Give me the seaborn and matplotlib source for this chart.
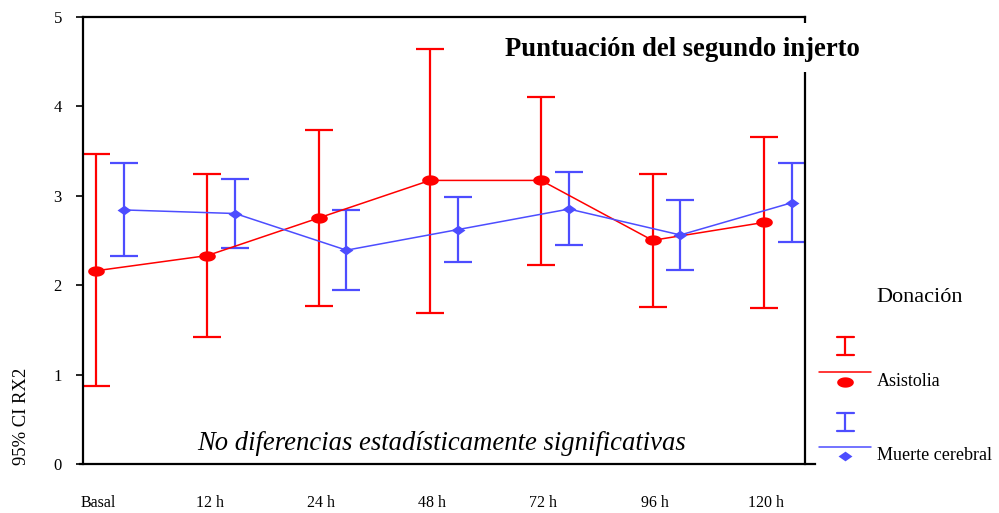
import numpy as np
import pandas as pd
import seaborn as sns
import matplotlib
matplotlib.use("Agg")
import matplotlib.pyplot as plt
from matplotlib.lines import Line2D
from matplotlib.patches import Rectangle
from matplotlib.path import Path

# Time points and group summaries (mean with 95% CI)
momentos = ["Basal", "12 h", "24 h", "48 h", "72 h", "96 h", "120 h"]

asistolia_media = [2.16, 2.33, 2.75, 3.17, 3.17, 2.50, 2.70]
asistolia_sup = [3.46, 3.24, 3.73, 4.64, 4.10, 3.24, 3.66]
asistolia_inf = [0.87, 1.42, 1.77, 1.69, 2.23, 1.76, 1.74]

muerte_media = [2.84, 2.80, 2.39, 2.62, 2.85, 2.56, 2.92]
muerte_sup = [3.37, 3.19, 2.84, 2.98, 3.26, 2.95, 3.37]
muerte_inf = [2.33, 2.41, 1.94, 2.26, 2.45, 2.17, 2.48]

grupos = ["Asistolia", "Muerte cerebral"]
colores = {"Asistolia": "#ff0000", "Muerte cerebral": "#4d4dff"}
desplazamiento = {"Asistolia": 0.0, "Muerte cerebral": 0.25}

W, H = 999, 513
sns.set_theme(style="white")
plt.rcParams["font.family"] = ["Liberation Serif", "DejaVu Serif"]
plt.rcParams["text.color"] = "black"

fig = plt.figure(figsize=(W / 100, H / 100), dpi=100)
ax = fig.add_axes([82.7 / W, 1 - 464 / H, (805.3 - 82.7) / W, (464 - 16.7) / H])

# Marker shapes: flat ellipse and flat diamond
t = np.linspace(0, 2 * np.pi, 40)
elipse = Path(np.column_stack([np.cos(t), 0.62 * np.sin(t)]))
rombo = Path([(-1, 0), (0, 0.7), (1, 0), (0, -0.7), (-1, 0)],
             [Path.MOVETO, Path.LINETO, Path.LINETO, Path.LINETO, Path.CLOSEPOLY])
marcadores = {"Asistolia": elipse, "Muerte cerebral": rombo}
tamanos = {"Asistolia": 12, "Muerte cerebral": 10}

filas = []
for g, med, sup, inf in [("Asistolia", asistolia_media, asistolia_sup, asistolia_inf),
                         ("Muerte cerebral", muerte_media, muerte_sup, muerte_inf)]:
    for i, m in enumerate(momentos):
        filas.append({"grupo": g, "x": i + desplazamiento[g], "media": med[i],
                      "sup": sup[i], "inf": inf[i]})
df = pd.DataFrame(filas)

for g in grupos:
    d = df[df["grupo"] == g]
    ax.errorbar(d["x"], d["media"], yerr=[d["media"] - d["inf"], d["sup"] - d["media"]],
                fmt="none", ecolor=colores[g], elinewidth=1.6, capsize=10, capthick=1.6,
                zorder=2)
    sns.lineplot(data=d, x="x", y="media", color=colores[g], linewidth=1.1,
                 marker=marcadores[g], markersize=tamanos[g], markeredgewidth=0,
                 ax=ax, zorder=3, legend=False)

ax.set_xlim(-0.12, 6.373)
ax.set_ylim(0, 5)
ax.set_yticks(range(0, 6))
ax.set_xticks(np.arange(len(momentos)) + 0.02)
ax.set_xticklabels(momentos)
ax.set_xlabel("")
ax.set_ylabel("")
ax.tick_params(axis="x", length=0, pad=22, labelsize=11.5, colors="black")
ax.tick_params(axis="y", left=True, length=5, width=1.2, direction="out", pad=10,
               labelsize=12, colors="black")
for s in ax.spines.values():
    s.set_color("black")
    s.set_linewidth(1.6)
ax.spines["bottom"].set_bounds(-0.145, 6.46)
ax.grid(False)


def fx(px):
    return px / W


def fy(py):
    return 1 - py / H


fig.text(fx(22), fy(416), "95% CI RX2", rotation=90, ha="center", va="center",
         fontsize=13.4)

# Title on a white box that interrupts the right frame line
fig.patches.append(Rectangle((fx(495), fy(72)), fx(375), (72 - 23) / H,
                             transform=fig.transFigure, facecolor="white",
                             edgecolor="none", zorder=1))
fig.text(fx(682), fy(50), "Puntuación del segundo injerto", ha="center", va="center",
         fontsize=19.2, fontweight="bold", zorder=3)

fig.text(fx(442), fy(443), "No diferencias estadísticamente significativas",
         ha="center", va="center", fontsize=19.2, style="italic", zorder=3)

# Legend
fig.text(fx(876), fy(298), "Donación", ha="left", va="center", fontsize=16)
for g, ytop, ybot, yline, ymark in [("Asistolia", 337, 355, 371.5, 381.5),
                                    ("Muerte cerebral", 413, 431, 447, 456)]:
    c = colores[g]
    fig.add_artist(Line2D([fx(845), fx(845)], [fy(ytop), fy(ybot)], color=c, lw=1.6))
    for yc in (ytop, ybot):
        fig.add_artist(Line2D([fx(836.5), fx(853.5)], [fy(yc), fy(yc)], color=c, lw=1.6))
    fig.add_artist(Line2D([fx(819), fx(871)], [fy(yline), fy(yline)], color=c, lw=1.1))
    fig.add_artist(Line2D([fx(845)], [fy(ymark)], color=c, marker=marcadores[g],
                          markersize=tamanos[g], markeredgewidth=0, linestyle="none"))
    fig.text(fx(877), fy(ymark - 0.5), g, ha="left", va="center", fontsize=13)

fig.savefig("out.png", dpi=100)
